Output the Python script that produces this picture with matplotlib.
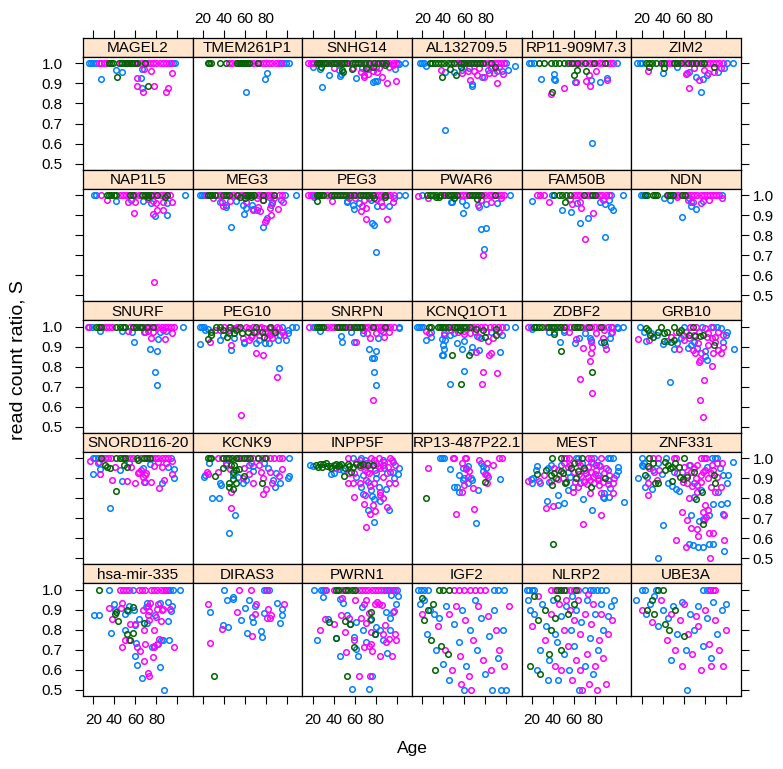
import matplotlib
matplotlib.use("Agg")
import matplotlib.pyplot as plt

plt.rcParams["font.family"] = ["Liberation Sans", "DejaVu Sans"]


def at_one(*ages):
    # samples whose read count ratio sits exactly at 1.0
    return [(a, 1.0) for a in ages]


# ---- per-gene data: (age, S) for each of the three groups ----
MAGEL2 = {
    "blue": at_one(16, 18, 20, 23, 96, 98) + [(27, .92), (42, .967), (47, .958), (66, .972), (65, .928), (66, .875)],
    "magenta": at_one(25, 27, 30, 33, 46, 50, 53, 56, 59, 62, 65, 68, 71, 74, 77, 80, 83, 86, 89, 92, 94)
    + [(68, .972), (75, .963), (95, .952), (62, .928), (62, .888), (78, .888), (67, .858), (91, .875), (89, .858)],
    "green": at_one(35, 37, 39, 44, 47, 50, 52, 54, 57, 60, 62, 69) + [(43, .933), (72, .888)],
}
TMEM261P1 = {
    "blue": at_one(96, 99, 102) + [(81, .953), (79, .923), (61, .858)],
    "magenta": at_one(45, 48, 51, 55, 58, 62, 65, 68, 71, 74, 77, 80, 83, 86, 89, 92, 94),
    "green": at_one(25, 26, 28, 36, 42, 52, 54, 56, 58, 60, 62, 64, 72),
}
SNHG14 = {
    "blue": at_one(20, 101, 108) + [(20, .98), (27, .97), (35.5, .94), (29, .883), (46.5, .946), (46, .938), (45.5, .967),
                                    (61, .928), (77, .908), (79, .911), (81, .913), (98, .972), (102, .995), (67, .975), (72, .972)],
    "magenta": at_one(16, 18, 21, 24, 27, 30, 33, 36, 39, 42, 45, 48, 51, 54, 57, 60, 63, 66, 69, 72, 75, 78, 81, 84, 87, 90, 93, 96, 99)
    + [(40, .975), (58, .975), (66, .955), (69, .933), (68.5, .942), (73, .945), (77, .962), (81, .958), (86, .933), (83.5, .975),
       (91, .903), (99, .91), (93, .983), (96, .992), (74, .978), (80, .983)],
    "green": at_one(24, 26, 28, 31, 34, 37, 40, 43, 47, 50, 53, 57, 60, 63, 66, 70, 74, 78, 82, 86, 90)
    + [(28, .983), (48, .967), (49, .955), (57, .972), (71, .978), (77, .983), (89, .992)],
}
AL132709_5 = {
    "blue": at_one(18, 20, 22, 100) + [(108, .988), (23.5, .987), (42, .955), (50, .958), (58, .967), (67, .888), (67.6, .895),
                                       (77, .933), (91, .962), (96, .962), (101.6, .967), (42, .669), (82, .967), (64.5, .975)],
    "magenta": at_one(50, 53, 56, 59, 62, 65, 68, 71, 74, 77, 80, 83, 86, 89, 92, 95, 98)
    + [(38, .967), (58, .95), (63, .962), (69, .962), (65.5, .916), (72, .942), (79, .933), (83, .95), (88, .95), (91, .9),
       (97, .946), (85, .975), (93, .983), (74, .975)],
    "green": at_one(27, 29, 32, 35, 38, 41, 44, 47, 50, 57, 60, 63, 66, 69, 72, 75, 78, 85)
    + [(38.6, .933), (46.5, .972), (52, .942), (57, .983), (89, .983)],
}
RP11_909M7_3 = {
    "blue": at_one(17, 19, 22, 101) + [(28.5, .923), (41, .945), (40.5, .921), (42, .916), (61, .908), (76, .916), (85, .908),
                                       (91, .925), (77, .602)],
    "magenta": at_one(57, 60, 64, 67, 70, 74, 77, 80, 84, 87, 91, 94, 97)
    + [(62, .908), (74, .942), (80.6, .962), (71, .911), (75, .888), (91, .916), (50.6, .875), (37.7, .846)],
    "green": at_one(27, 31, 38, 42, 46, 50, 54, 58, 63, 70, 79, 89)
    + [(63, .967), (59.5, .942), (71.5, .962), (38.6, .858)],
}
ZIM2 = {
    "blue": at_one(16, 18, 20, 101, 107) + [(40.5, .953), (65, .958), (71.5, .93), (78, .921), (82.5, .942), (92.7, .955),
                                            (76, .855), (98.5, .978), (54, .983)],
    "magenta": at_one(40, 43, 46, 49, 52, 55, 58, 61, 64, 67, 70, 73, 76, 79, 82, 85, 88, 91, 94, 97)
    + [(25.7, .962), (62, .946), (63.6, .95), (74.6, .916), (83.5, .95), (89, .958), (65.5, .878), (79.4, .967), (95, .975), (70, .975)],
    "green": at_one(24, 27, 30, 34, 38, 41, 51, 54, 57, 64, 68, 72, 76, 79) + [(27, .983), (41.5, .978), (89, .983)],
}
NAP1L5 = {
    "blue": at_one(21, 23, 107) + [(42, .972), (56, .975), (67, .972), (75, .962), (90, .962), (79, .896), (90, .9)],
    "magenta": at_one(27, 45, 48, 51, 54, 57, 60, 63, 66, 69, 72, 75, 78, 81, 84, 87, 90, 93)
    + [(33, .975), (53, .967), (60, .967), (72, .978), (76.5, .972), (80, .962), (86, .967), (95, .963), (81, .925), (86, .925),
       (59, .908), (77, .905), (78, .564)],
    "green": at_one(33, 35, 37, 40, 42, 55, 58, 66, 69, 72, 75, 81, 90) + [(72, .992), (88.6, .988)],
}
MEG3 = {
    "blue": at_one(17, 19, 21, 98, 108) + [(36, .967), (41.5, .95), (42, .938), (51, .97), (58.5, .95), (61, .936), (59, .903),
                                           (67, .95), (68, .928), (71.5, .925), (81, .883), (77, .841), (47, .841), (94, .975),
                                           (85, .95), (86, .967), (83, .992)],
    "magenta": at_one(23, 33, 36, 40, 43, 46, 49, 53, 56, 59, 62, 66, 69, 72, 75, 79, 82, 85, 88, 92, 95)
    + [(29.5, .983), (38, .967), (39, .945), (46, .972), (61, .967), (67.4, .925), (72, .942), (74, .921), (77, .975), (84, .933),
       (85, .9), (80, .875), (79, .866), (91, .928), (96, .967), (86, .958), (71, .983), (88, .983)],
    "green": at_one(25, 27, 29, 31, 39, 42, 45, 52, 60, 63, 66, 69, 77, 88) + [(55, .992), (59.5, .983), (77, .975), (66, .992)],
}
PEG3 = {
    "blue": at_one(21, 24, 102, 108) + [(21, .988), (53, .972), (53, .963), (58, .95), (59, .928), (64.5, .958), (76.5, .861),
                                        (78.7, .85), (80.3, .716), (81, .945), (92.4, .946), (97.8, .983), (75.6, .975)],
    "magenta": at_one(16, 18, 20, 31, 34, 37, 40, 43, 46, 49, 52, 55, 58, 61, 64, 67, 70, 73, 76, 79, 82, 85, 88, 91, 94, 97)
    + [(38.6, .972), (55, .983), (67, .946), (69.3, .975), (70.8, .933), (66, .92), (70.8, .878), (90.8, .878), (85.7, .945),
       (85, .967), (96, .967), (80, .978), (74, .983), (60, .983)],
    "green": at_one(24, 26, 28, 30, 37, 40, 43, 46, 49, 52, 56, 59, 65, 68, 71, 74, 77, 89) + [(24.5, .972), (78.7, .987), (89, .992)],
}
PWAR6 = {
    "blue": at_one(20, 103) + [(47.5, .967), (48, .963), (58, .97), (61.4, .95), (58.8, .908), (74, .942), (81, .955),
                               (91.4, .962), (76, .829), (80.6, .834), (78.7, .729)],
    "magenta": at_one(38, 41, 44, 47, 50, 53, 56, 59, 62, 65, 68, 71, 74, 77, 80, 83, 86, 89, 92, 95, 98)
    + [(16, .995), (25.7, .987), (73, .95), (75.6, .975), (85, .967), (94.6, .983), (77.8, .702)],
    "green": at_one(24, 27, 30, 33, 37, 41, 44, 47, 50, 53, 64, 67, 70, 73, 76, 89)
    + [(33, .992), (36, .992), (49.7, .987), (71.8, .978)],
}
FAM50B = {
    "blue": at_one(39, 95, 107) + [(19.7, .972), (63, .962), (48.4, .925), (57, .916), (65.5, .86), (72.8, .883), (89.5, .788),
                                   (85, .967), (89.5, .953), (93.6, .975), (95, .938), (97.4, .925)],
    "magenta": at_one(25, 28, 31, 60, 63, 66, 69, 72, 75, 78, 81, 84, 87, 90, 93)
    + [(36.4, .967), (56, .978), (57.6, .955), (65.8, .967), (66.8, .935), (78.4, .911), (70.2, .779), (87.6, .975)],
    "green": at_one(41, 46, 49, 52, 56, 69, 77, 80) + [(51.3, .967)],
}
NDN = {
    "blue": at_one(19, 21, 23, 48, 96) + [(41.5, .987), (47.2, .975), (65, .983), (66.7, .967), (66.7, .945), (71.5, .93),
                                          (78.7, .972), (58.5, .888)],
    "magenta": at_one(45, 52, 55, 58, 61, 64, 67, 70, 73, 76, 79, 82, 85, 88, 91, 94)
    + [(53.5, .988), (64.5, .975), (69.3, .967), (76.2, .958), (84, .975), (96.8, .983)],
    "green": at_one(23, 25, 31, 33, 35, 44, 47, 50, 58, 61),
}
SNURF = {
    "blue": at_one(16, 19, 105) + [(26.6, .978), (47.5, .978), (57, .975), (68, .972), (83, .975), (89, .978), (82, .938),
                                   (59, .925), (74, .886), (81, .878), (79, .771), (81, .707)],
    "magenta": at_one(15, 29, 32, 35, 38, 55, 58, 61, 64, 67, 70, 73, 76, 79, 82, 85, 88, 91, 94, 97)
    + [(53, .978), (68.7, .972), (71.8, .978), (76.5, .975), (86, .983), (95, .967), (75, .945), (88, .936)],
    "green": at_one(23, 25, 27, 42, 45, 48, 50, 58, 61, 64, 66, 71, 77),
}
PEG10 = {
    "blue": at_one(17, 19, 21, 95, 105, 108)
    + [(16.8, .913), (21.6, .983), (24.7, .988), (35.8, .933), (39, .958), (49.7, .942), (46.5, .883), (59.2, .925), (59.2, .916),
       (70.2, .916), (73.4, .933), (78.7, .916), (82.5, .916), (91, .933), (93.3, .958), (98.7, .933), (101, .983), (101, .967),
       (92, .795)],
    "magenta": at_one(40, 45, 52, 60.8, 68, 75, 85, 90)
    + [(26.9, .925), (35.8, .983), (46.5, .908), (63.3, .933), (67, .958), (79.4, .975), (82.5, .992), (84, .958), (87.3, .967),
       (92, .992), (95.2, .975), (96.8, .958), (70.2, .87), (77.4, .858), (90, .748), (55.7, .557), (73.4, .992), (78, .992),
       (82, .975), (54.4, .992), (63.9, .992), (70, .975), (57.6, .942), (65.5, .95), (73.4, .958), (81.3, .942), (86, .942),
       (88, .983), (44.9, .983), (49.7, .992), (31, .983)],
    "green": at_one(32.6, 36, 45.9, 55, 70, 84)
    + [(24.7, .938), (27.2, .975), (27.9, .958), (39, .983), (42.4, .95), (44.9, .967), (49.7, .967), (51.3, .983), (57, .967),
       (62.4, .975), (68.7, .975), (76.5, .975), (78, .95), (88.2, .972)],
}
SNRPN = {
    "blue": at_one(20, 22, 102) + [(26.6, .978), (46.5, .955), (47.8, .925), (58.9, .925), (56.6, .972), (67.7, .97), (82, .945),
                                   (86.6, .975), (102, .992), (73.4, .886), (80.3, .878), (76.5, .841), (78.7, .844),
                                   (78.7, .771), (80.3, .711)],
    "magenta": at_one(17, 31, 34, 37, 40, 43, 46, 49, 52, 55, 58, 61, 64, 67, 70, 73, 76, 79, 82, 85, 88, 91, 94, 97)
    + [(60.8, .921), (71.5, .967), (74.6, .945), (88.2, .946), (80.3, .967), (93, .975), (77.8, .632), (67.7, .983), (85, .983)],
    "green": at_one(24, 26, 28, 30, 43, 45, 48, 51, 56, 59, 62, 65, 67, 77, 89),
}
KCNQ1OT1 = {
    "blue": at_one(15, 17, 19, 21, 100, 108)
    + [(28, .972), (23.3, .933), (28, .95), (40.8, .958), (38.3, .938), (41.8, .933), (39.6, .908), (40.5, .888), (38.6, .858),
       (39.8, .858), (46.5, .958), (50.3, .967), (52.6, .92), (59.2, .928), (57.6, .888), (67, .9), (66, .875), (74.3, .883),
       (93.6, .875), (96, .958), (75.6, .942), (71.8, .955), (59.8, .778), (46.5, .714), (85.7, .975)],
    "magenta": at_one(40, 44, 48, 52, 56, 60, 64, 68, 72, 76, 80, 84, 88, 92, 96)
    + [(23.3, .978), (26.6, .967), (40.8, .967), (53.5, .975), (59.8, .962), (70.6, .875), (83.4, .858), (85.7, .866), (73.7, .95),
       (82.5, .928), (87.6, .942), (93, .972), (65.5, .967), (70, .975), (77.8, .774), (90.8, .769), (76.5, .714), (81, .975),
       (47.2, .983), (60, .978)],
    "green": at_one(26, 28, 35, 37, 39, 42, 45, 50, 53, 56, 59, 62, 65)
    + [(48.7, .858), (56, .983), (64.5, .858), (70.6, .987), (77.8, .983), (80, .95), (89.8, .988), (90.5, .958), (56.6, .714)],
}
ZDBF2 = {
    "blue": at_one(19, 40, 95, 101, 107)
    + [(19.7, .988), (36.4, .972), (41.2, .975), (46.5, .925), (50.6, .972), (61, .916), (65, .942), (70.2, .967), (75.3, .942),
       (76, .935), (85.4, .925), (89.5, .908), (94.2, .945), (95, .967), (101.8, .992), (50.6, .983)],
    "magenta": at_one(16, 33, 36, 48, 52, 56, 60, 64, 68, 72, 76, 80, 84, 88, 92, 96)
    + [(61.7, .936), (68.7, .891), (76, .925), (77, .9), (76, .866), (74.7, .828), (65.8, .741), (77.5, .667), (90.7, .888),
       (87.6, .942), (96.5, .975), (88.6, .983), (80.7, .967), (55.4, .975)],
    "green": at_one(22, 24, 27, 30, 35, 38, 41, 44, 47, 50, 60, 63, 66, 74, 86)
    + [(41.2, .962), (47.5, .88), (77.5, .774), (88.5, .921)],
}
GRB10 = {
    "blue": at_one(18.4, 60, 77.1, 88, 92)
    + [(22.5, .972), (24.1, .928), (29.1, .967), (34.8, .958), (40.2, .911), (44.3, .928), (53.8, .916), (50.6, .888), (67, .908),
       (64.4, .895), (73, .891), (80, .878), (80, .855), (82.2, .833), (46.6, .724), (100.5, .958), (101.4, .975), (107.5, .888),
       (97.4, .925), (95.8, .992), (57.3, .942), (70.2, .925)],
    "magenta": at_one(66, 72, 86)
    + [(16.2, .936), (26.9, .933), (52.2, .975), (55.4, .888), (62, .975), (65.5, .942), (69, .883), (70.5, .866), (76.2, .866),
       (74.3, .824), (75.9, .833), (87.3, .803), (79.4, .736), (75.3, .632), (78.2, .548), (87.9, .866), (95.2, .866), (92.7, .883),
       (97.4, .9), (86.6, .942), (89.8, .925), (92.7, .975), (83.4, .967), (80.3, .992), (60.4, .933), (58.9, .958), (47.5, .95),
       (73.3, .916), (82.9, .908), (70, .96), (75, .975), (82, .95), (97, .96), (90, .95)],
    "green": at_one(38.6, 50.6, 69.3)
    + [(24.1, .995), (26.3, .983), (28.2, .958), (30.4, .95), (35.4, .975), (41.2, .967), (44.3, .975), (41.2, .928), (47.5, .925),
       (55.4, .975), (57, .983), (50.6, .933), (64.6, .958), (70.8, .955), (75.6, .955), (78.1, .958), (89.2, .908)],
}
SNORD116_20 = {
    "blue": at_one(20, 22, 24, 94)
    + [(24.4, .975), (26.6, .946), (19.7, .92), (36.1, .753), (45, .942), (47.5, .888), (54.4, .975), (67.7, .95), (68.3, .883),
       (85.4, .875), (91.4, .958), (96.5, .903), (97.1, .945), (74.3, .972)],
    "magenta": at_one(28, 31, 34, 37, 52, 55, 58, 65, 70, 73, 76, 79, 82, 85, 88, 91)
    + [(16.5, .988), (25.4, .983), (26, .921), (38, .891), (40.8, .955), (51.9, .886), (59.2, .875), (56, .958), (62.3, .928),
       (63.9, .933), (65.5, .942), (67, .908), (68.7, .916), (70.2, .925), (68.7, .88), (75, .883), (87, .891), (82.9, .853),
       (78.1, .962), (85.4, .958), (94.9, .921), (94.9, .988), (81.3, .983), (89.2, .978)],
    "green": at_one(27, 42, 45, 48, 50, 62, 68, 71, 74)
    + [(30.8, .967), (33, .958), (35.5, .95), (41.8, .838), (49.1, .967), (52.2, .958), (62.3, .992)],
}
KCNK9 = {
    "blue": at_one(102)
    + [(20.9, .905), (21.6, .916), (25.7, .975), (28.8, .801), (34.8, .801), (36.4, .875), (37.4, .866), (42.1, .967), (48.1, .916),
       (52.9, .908), (60.8, .891), (57.6, .875), (64.2, .967), (68, .963), (67.4, .936), (81.6, .95), (86.4, .891), (89.5, .925),
       (93.3, .878), (88.9, .858), (102.1, .911), (100.5, .9), (50.6, .716), (44.3, .627), (78.4, .975)],
    "magenta": at_one(34, 38, 44, 52, 56, 60, 64, 68, 72, 76, 80, 84, 88, 92, 95)
    + [(23.8, .933), (24.7, .921), (34.2, .933), (42, .975), (45.9, .945), (46.5, .833), (57.6, .9), (63.3, .921), (59.2, .95),
       (65.5, .978), (67.4, .875), (75.3, .933), (76.9, .9), (80, .844), (76.9, .819), (84.1, .933), (85.8, .875), (92.7, .911),
       (94.9, .945), (46.5, .751), (73.7, .967)],
    "green": at_one(25, 27, 28, 39, 42, 45, 48, 51, 54, 59, 62, 65, 72, 79)
    + [(31, .911), (39, .95), (46.8, .967), (49.7, .967), (51.3, .942), (48.1, .933), (54.4, .945), (59.2, .911), (48.7, .895),
       (51.3, .875), (44.3, .875), (45, .858), (48.1, .844), (76.2, .875)],
}
INPP5F = {
    "blue": at_one(58, 66.1)
    + [(17.2, .967), (20.3, .962), (39.9, .925), (45.5, .945), (48.7, .942), (96.1, .983), (101.9, .95), (100.9, .921), (88.3, .95),
       (90.5, .925), (96.2, .933), (61.4, .908), (66.1, .855), (72.4, .883), (80.3, .9), (83.5, .858), (84.1, .788), (89.8, .844),
       (97.8, .9), (67.7, .821), (76.5, .811), (78.7, .798), (72.7, .744), (92.4, .741), (78.4, .681), (37.7, .921), (74, .975),
       (86.6, .992), (80.3, .925), (67.7, .916), (75.6, .841), (70, .99)],
    "magenta": at_one(53.5, 75.6, 83.5, 93.6)
    + [(64.6, .958), (69.4, .942), (74.1, .95), (78.9, .942), (83.6, .95), (86.8, .967), (91.5, .958), (93.1, .933), (53.5, .878),
       (58.2, .878), (64.6, .875), (70.8, .891), (74.6, .861), (78.7, .875), (84.4, .833), (93, .878), (98.4, .875), (58.9, .808),
       (86.6, .803), (69, .771), (77.5, .766), (79, .737), (90.5, .758), (74.6, .72), (70.5, .656), (55, .925), (59.8, .925),
       (42.4, .95), (61.4, .983), (70.8, .975), (80.3, .975), (88, .983), (98.1, .967), (73.9, .925), (86.6, .908), (69.4, .816),
       (83.6, .816), (65, .99), (78, .99), (95, .99), (68, .96), (82, .96), (72, .93)],
    "green": [(23.5, .967), (25.1, .958), (27.2, .972), (29.1, .958), (32.3, .978), (36.1, .962), (37.7, .95), (39.9, .967),
              (42.4, .972), (45, .967), (47.2, .972), (50.3, .95), (53.5, .972), (58.2, .958), (61.4, .972), (64.6, .967),
              (68.3, .972), (72.4, .967), (77.1, .967), (56.6, .933), (49.4, .911), (30, .97), (34, .96), (44, .96), (55, .96)],
}
RP13_487P22_1 = {
    "blue": at_one(37, 39, 41)
    + [(46.5, .946), (58.5, .953), (61.1, .95), (63.3, .962), (54.5, .916), (66.4, .9), (67.6, .891), (58.8, .891), (49.7, .858),
       (52.9, .858), (55.1, .833), (63.6, .875), (73.4, .841), (76.2, .975), (78.1, .963), (80.3, .95), (82.5, .908), (78.1, .936),
       (93.9, .895), (71.5, .677), (60.1, .9)],
    "magenta": at_one(49, 50, 61, 62, 93, 96)
    + [(25.7, .95), (57.9, .975), (61.1, .945), (64.2, .938), (63.3, .908), (60.1, .866), (58.2, .833), (68.6, .853), (74, .992),
       (81.9, .975), (87.6, .967), (79.4, .921), (81.9, .916), (81.9, .878), (52, .724), (69.3, .749)],
    "green": [(23.3, .8), (79.7, .883)],
}
MEST = {
    "blue": at_one(62, 64, 79, 92, 94, 97)
    + [(24.7, .962), (23.8, .942), (20.6, .9), (20, .875), (19.1, .895), (27.5, .875), (35.1, .95), (35.8, .883), (38.3, .967),
       (44.6, .816), (54.1, .841), (65.8, .875), (68.3, .796), (71.5, .925), (78.8, .875), (87.3, .808), (88.2, .828), (92, .942),
       (94.5, .85), (100, .916), (101.6, .958), (101.6, .938), (107.5, .783), (77.1, .744), (44.3, .766), (50, .774), (34.2, .786),
       (55.7, .908), (54.1, .933), (82.6, .916), (92, .891), (76.3, .983), (84.1, .967), (67.4, .975), (47.8, .967), (58.9, .858),
       (93.6, .808), (88.2, .8)],
    "magenta": at_one(50, 52, 55, 73, 76, 86)
    + [(16.5, .886), (26.9, .888), (31.7, .916), (37.7, .886), (40.8, .95), (44.6, .942), (50.9, .975), (56.6, .967), (60.5, .883),
       (63.6, .858), (58.9, .833), (66.8, .911), (73.1, .958), (76.3, .933), (77.8, .908), (75.6, .828), (81, .967), (82.6, .891),
       (84.1, .866), (85.7, .828), (88.9, .925), (93.6, .916), (96.8, .878), (97.4, .824), (85.7, .716), (68.6, .671), (33.3, .753),
       (39.6, .761), (44.6, .895), (49.4, .9), (69.9, .883), (73.1, .908), (87.3, .883), (81, .942), (77.8, .975), (65.2, .967),
       (63.6, .983), (54.1, .958), (98.4, .9), (60, .93), (70, .94), (80, .92), (90, .95), (85, .96), (75, .89), (65, .92),
       (83, .9), (72, .87), (92, .87)],
    "green": at_one(39, 48, 68)
    + [(24.7, .921), (32.9, .942), (38.3, .916), (38.9, .866), (42.4, .9), (41.4, .928), (47.8, .938), (49.3, .925), (52.5, .883),
       (51.5, .875), (59.5, .975), (57.3, .95), (62, .9), (63.6, .938), (69.9, .95), (76.3, .855), (89.8, .9), (39.6, .574)],
}
ZNF331 = {
    "blue": at_one(20, 43, 87, 90, 92)
    + [(20.3, .967), (21.5, .962), (22.5, .975), (30.4, .942), (16.2, .9), (23.5, .858), (35.1, .975), (39.2, .921), (44.6, .875),
       (48.7, .861), (52.5, .844), (55.7, .838), (70, .878), (76.3, .841), (70, .805), (92.7, .833), (97.4, .916), (102.1, .916),
       (101.5, .875), (101.5, .774), (95.8, .771), (97.4, .721), (88, .769), (84.1, .716), (74.3, .687), (66.5, .716), (40.5, .669),
       (64.9, .574), (68.6, .565), (74, .557), (78.7, .557), (84.4, .574), (87.5, .574), (98.1, .537), (35.4, .503), (78.4, .699),
       (25, .908), (29.4, .844), (50.6, .933), (58.5, .933), (66.4, .967), (82.2, .958), (94.8, .95), (107.2, .98)],
    "magenta": at_one(31, 36, 51, 53, 76, 79, 81)
    + [(26.3, .878), (27.2, .95), (36.7, .942), (34.5, .891), (58.9, .883), (63.6, .916), (66.8, .933), (73.1, .866), (72.5, .833),
       (76.9, .883), (65.2, .8), (80, .942), (83.2, .9), (86.3, .925), (92.1, .908), (95.2, .858), (98, .716), (80, .766),
       (78.5, .732), (79.4, .691), (81, .707), (83.2, .744), (73, .649), (67.2, .654), (63.3, .694), (58.6, .732), (52.5, .594),
       (61.7, .557), (98.1, .59), (85, .502), (88, .627), (84.1, .627), (73.3, .61), (26.3, .816), (31.3, .933), (53.8, .925),
       (60.1, .958), (64.8, .967), (72.7, .967), (86.9, .967), (91.7, .975), (76.2, .916), (71.5, .9), (68.3, .861), (63.6, .875),
       (86.3, .858), (90, .833), (96.8, .975), (70, .95), (78, .93), (88, .94)],
    "green": at_one(27, 60)
    + [(25.7, .962), (30.4, .975), (23.5, .916), (35.7, .875), (32.6, .878), (42.4, .983), (44.9, .967), (47.2, .95), (42.4, .942),
       (48.7, .958), (51.9, .975), (55.1, .958), (48.7, .888), (56.6, .908), (58.9, .895), (63, .908), (70, .933), (77.8, .833),
       (71.5, .795), (88.9, .916), (90.2, .878), (78.4, .671)],
}
HSA_MIR_335 = {
    "blue": at_one(35, 58, 91, 93, 96, 102)
    + [(20.9, .875), (25, .875), (39.9, .931), (37.1, .786), (40.5, .898), (50, .881), (50.6, .798), (52.8, .895), (54.1, .921),
       (58.9, .901), (60.1, .823), (60.8, .734), (59.2, .669), (61.7, .624), (63.3, .856), (66, .558), (70.4, .915), (70.9, .935),
       (70.9, .835), (78.6, .876), (75.5, .714), (81.8, .731), (83.7, .936), (83.1, .617), (84.3, .751), (86.3, .748), (86.8, .502),
       (90.6, .94), (91.3, .845), (92.2, .751), (94.1, .895), (95.1, .921)],
    "magenta": at_one(45, 48, 51, 54, 63, 66, 69, 75, 78, 81, 84, 87, 89)
    + [(34.9, .908), (38, .856), (46.9, .935), (45.9, .911), (50.3, .751), (47.2, .714), (54.7, .831), (53.8, .751), (60.1, .831),
       (61.7, .714), (64.2, .697), (66.9, .898), (67.9, .8), (67.9, .644), (69.4, .731), (71.6, .873), (73.1, .851), (71.6, .918),
       (73.4, .895), (72.2, .584), (73.1, .572), (74.1, .935), (77.4, .714), (78, .8), (79.3, .865), (76.8, .667), (78, .718),
       (80.6, .906), (80.6, .731), (81.2, .931), (84.4, .845), (82.8, .756), (85, .898), (86, .906), (96.4, .714), (93.2, .906)],
    "green": at_one(25)
    + [(40.5, .881), (41.5, .888), (43.1, .845), (52.5, .901), (51.6, .778), (55, .751), (57.3, .915), (57.3, .784), (68.5, .835)],
}
DIRAS3 = {
    "blue": at_one(40, 78, 80, 83)
    + [(26.9, .888), (39.3, .826), (42.4, .951), (44, .815), (48.7, .962), (48.7, .955), (56.6, .851), (59.8, .911), (61.4, .786),
       (63.9, .948), (67, .865), (67.7, .84), (69.2, .918), (75.3, .794), (75.9, .764), (78.1, .886), (90.8, .935), (93.6, .835),
       (95.5, .906), (95.5, .873)],
    "magenta": at_one(54, 66, 81)
    + [(24.7, .928), (26.9, .737), (37.7, .806), (51.9, .888), (66.7, .769), (69.2, .881), (70.8, .928), (81.9, .906), (81.3, .861),
       (84.1, .861), (85.1, .873), (96.8, .928)],
    "green": [(30.7, .572)],
}
PWRN1 = {
    "blue": at_one(21, 28, 30, 32, 88, 92, 96, 100)
    + [(24.4, .751), (34.8, .856), (29.5, .965), (41.8, .761), (45.9, .672), (45.9, .952), (49, .935), (52.2, .873), (55.4, .831),
       (57.9, .505), (59.5, .764), (61.1, .84), (62.7, .672), (61.7, .706), (67.1, .915), (68, .801), (71.2, .739), (73.7, .505),
       (74.3, .851), (76.8, .572), (79, .778), (79.9, .815), (84.3, .798), (86.9, .751), (89.4, .888), (90.7, .684), (93.3, .798),
       (93.9, .861), (94.9, .973), (96.5, .888), (99.6, .931), (101.2, .968)],
    "magenta": at_one(33, 40, 45, 48, 52, 60, 64, 67, 70, 73, 76, 79, 82, 85, 90, 94, 98)
    + [(27, .801), (31.7, .856), (40.2, .828), (46.8, .876), (47.8, .957), (50.6, .79), (51.3, .689), (60.1, .948), (54.7, .861),
       (59.2, .751), (63.9, .572), (65.8, .861), (69, .931), (69, .714), (71.2, .948), (71.2, .835), (73.4, .885), (73.7, .722),
       (74.3, .572), (75.2, .731), (75.9, .79), (76.8, .697), (79, .928), (81.5, .94), (83, .928), (83.7, .672), (85.9, .923),
       (86.9, .781), (88.5, .826), (90, .739), (92.6, .756), (95.5, .672), (97.4, .896), (98.1, .781), (99, .751)],
    "green": at_one(42, 44, 51, 54, 57, 60)
    + [(35.5, .84), (41.8, .761), (52.2, .572), (50.6, .845), (55.4, .831), (59.5, .714), (75.2, .856), (75.9, .888), (79.6, .781)],
}
IGF2 = {
    "blue": at_one(16, 19, 22, 25, 88, 92, 98)
    + [(18, .93), (22, .95), (27, .9), (31, .88), (36, .86), (24, .78), (33, .7), (40, .63), (45, .55), (50, .83), (55, .74),
       (58, .9), (62, .62), (65, .8), (70, .95), (72, .7), (76, .86), (80, .58), (83, .77), (86, .5), (88, .9), (92, .66),
       (95, .5), (100, .5), (97, .8), (60, .5), (43, .92)],
    "magenta": at_one(50, 55, 60, 65, 70, 75, 80)
    + [(20, .88), (35, .82), (42, .7), (48, .6), (52, .92), (56, .67), (61, .85), (64, .57), (68, .75), (73, .92), (78, .65),
       (82, .87), (85, .6), (90, .8), (93, .7), (98, .62), (102, .92), (66, .5), (57, .53), (45, .88)],
    "green": at_one(36, 40, 45) + [(20, .96), (25, .9), (30, .93), (22, .85), (28, .75), (38, .72), (44, .68), (32, .6)],
}
NLRP2 = {
    "blue": at_one(15, 17, 20, 22, 70, 75, 78, 82, 86, 90)
    + [(16, .95), (18, .9), (22, .88), (25, .6), (28, .7), (30, .93), (33, .82), (36, .65), (40, .95), (42, .78), (45, .55),
       (48, .87), (50, .68), (52, .92), (55, .6), (57, .8), (60, .72), (62, .9), (65, .5), (67, .84), (70, .62), (72, .95),
       (75, .76), (78, .58), (80, .88), (83, .7), (86, .93), (88, .8), (92, .87), (95, .92), (98, .95), (35, .55), (44, .74),
       (58, .97)],
    "magenta": at_one(38, 42, 46, 52, 56, 60, 64)
    + [(20, .82), (26, .97), (32, .75), (38, .88), (42, .62), (46, .93), (50, .8), (54, .72), (56, .9), (58, .55), (60, .85),
       (62, .65), (64, .95), (66, .78), (68, .5), (70, .88), (72, .68), (74, .53), (76, .83), (78, .93), (80, .62), (82, .5),
       (84, .75), (86, .88), (88, .66), (90, .53), (92, .78), (96, .85), (66, .6), (73, .98), (52, .95), (48, .6)],
    "green": at_one(44, 48, 50, 62)
    + [(18, .62), (22, .97), (26, .85), (28, .58), (32, .9), (38, .8), (44, .96), (48, .7), (54, .88), (60, .93), (36, .68),
       (42, .86)],
}
UBE3A = {
    "blue": at_one(20, 23, 34, 78, 82, 85)
    + [(15, .95), (24, .88), (28, .93), (32, .97), (36, .82), (40, .9), (45, .86), (50, .92), (54, .78), (58, .94), (62, .7),
       (66, .88), (70, .8), (74, .92), (78, .72), (82, .86), (86, .66), (88, .94), (92, .78), (96, .9), (63, .5), (48, .65),
       (100, .93)],
    "magenta": at_one(85, 88, 90)
    + [(20, .9), (30, .84), (38, .95), (44, .75), (48, .88), (52, .7), (56, .85), (60, .93), (64, .78), (68, .68), (72, .87),
       (76, .6), (80, .9), (84, .73), (86, .62), (90, .85), (94, .7), (97, .62), (100, .8), (58, .62), (74, .82)],
    "green": at_one(36, 40) + [(25, .9), (32, .88), (42, .83), (46, .8), (52, .9), (60, .77), (30, .95)],
}

# panels in display order, top row first
PANELS = [
    ("MAGEL2", MAGEL2), ("TMEM261P1", TMEM261P1), ("SNHG14", SNHG14),
    ("AL132709.5", AL132709_5), ("RP11-909M7.3", RP11_909M7_3), ("ZIM2", ZIM2),
    ("NAP1L5", NAP1L5), ("MEG3", MEG3), ("PEG3", PEG3),
    ("PWAR6", PWAR6), ("FAM50B", FAM50B), ("NDN", NDN),
    ("SNURF", SNURF), ("PEG10", PEG10), ("SNRPN", SNRPN),
    ("KCNQ1OT1", KCNQ1OT1), ("ZDBF2", ZDBF2), ("GRB10", GRB10),
    ("SNORD116-20", SNORD116_20), ("KCNK9", KCNK9), ("INPP5F", INPP5F),
    ("RP13-487P22.1", RP13_487P22_1), ("MEST", MEST), ("ZNF331", ZNF331),
    ("hsa-mir-335", HSA_MIR_335), ("DIRAS3", DIRAS3), ("PWRN1", PWRN1),
    ("IGF2", IGF2), ("NLRP2", NLRP2), ("UBE3A", UBE3A),
]
GROUP_COLORS = [("blue", "#0080ff"), ("magenta", "#ff00ff"), ("green", "#006400")]
X_TICKS = [20, 40, 60, 80, 100]
X_TICKLABELS = ["20", "40", "60", "80", ""]
Y_TICKS = [0.5, 0.6, 0.7, 0.8, 0.9, 1.0]
Y_TICKLABELS = ["0.5", "0.6", "0.7", "0.8", "0.9", "1.0"]

W, H = 783, 769
NCOL, NROW = 6, 5
LEFT, TOP = 83, 38
PW, PH, STRIP = 109.67, 131.6, 19
XLIM = (10.2, 114.5)
YLIM = (0.470, 1.032)
TICK_KW = dict(direction="out", length=5.5, width=0.8, labelsize=11)

fig = plt.figure(figsize=(W / 100, H / 100), dpi=100)


def box(x, y, w, h):
    return [x / W, 1 - (y + h) / H, w / W, h / H]


for i, (name, groups) in enumerate(PANELS):
    r, c = divmod(i, NCOL)
    x0 = LEFT + c * PW
    y0 = TOP + r * PH

    sax = fig.add_axes(box(x0, y0, PW, STRIP))
    sax.set_facecolor("#ffe5cc")
    sax.set_xlim(*XLIM)
    sax.set_ylim(0, 1)
    sax.set_yticks([])
    sax.text(0.5, 0.45, name, transform=sax.transAxes, ha="center", va="center",
             fontsize=11, clip_on=False, zorder=5)
    if r == 0:
        sax.set_xticks(X_TICKS)
        sax.set_xticklabels(X_TICKLABELS)
        sax.tick_params(axis="x", top=True, bottom=False, labelbottom=False,
                        labeltop=(c % 2 == 1), pad=3, **TICK_KW)
    else:
        sax.set_xticks([])

    ax = fig.add_axes(box(x0, y0 + STRIP, PW, PH - STRIP))
    for key, col in GROUP_COLORS:
        pts = groups[key]
        ax.plot([p[0] for p in pts], [p[1] for p in pts], "o", ls="none", ms=4.0,
                mfc="none", mec=col, mew=1.1, clip_on=True)
    ax.set_xlim(*XLIM)
    ax.set_ylim(*YLIM)

    if r == NROW - 1:
        ax.set_xticks(X_TICKS)
        ax.set_xticklabels(X_TICKLABELS)
        ax.tick_params(axis="x", bottom=True, labelbottom=(c % 2 == 0), pad=7, **TICK_KW)
    else:
        ax.set_xticks([])

    if c == 0:
        ax.set_yticks(Y_TICKS)
        ax.set_yticklabels(Y_TICKLABELS)
        ax.tick_params(axis="y", left=True, right=False, labelleft=(r % 2 == 0),
                       pad=9, **TICK_KW)
    elif c == NCOL - 1:
        ax.set_yticks(Y_TICKS)
        ax.set_yticklabels(Y_TICKLABELS)
        ax.tick_params(axis="y", left=False, right=True, labelleft=False,
                       labelright=(r % 2 == 1), pad=3, **TICK_KW)
    else:
        ax.set_yticks([])

    for a in (ax, sax):
        for sp in a.spines.values():
            sp.set_linewidth(0.9)
            sp.set_color("black")

fig.text(412 / W, 1 - 748 / H, "Age", ha="center", va="center", fontsize=12.5)
fig.text(18 / W, 1 - 360 / H, "read count ratio, S", ha="center", va="center",
         rotation=90, fontsize=14)

fig.savefig("out.png", dpi=100)
